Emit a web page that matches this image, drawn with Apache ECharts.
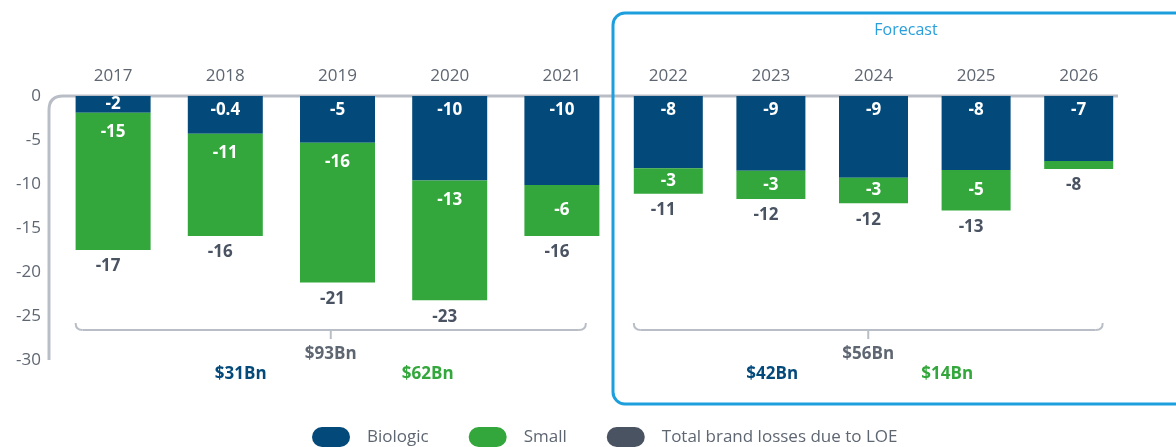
<!DOCTYPE html>
<html>
<head>
<meta charset="utf-8">
<script src="https://cdn.jsdelivr.net/npm/echarts@6/dist/echarts.min.js"></script>
<style>
  html, body { margin: 0; padding: 0; background: #fff; }
  #main { width: 1176px; height: 447px; }
</style>
</head>
<body>
<div id="main"></div>
<script>
// values (in $Bn, losses are negative)
var years = ['2017', '2018', '2019', '2020', '2021', '2022', '2023', '2024', '2025', '2026'];
var biologic = [-1.9, -4.3, -5.3, -9.6, -10.1, -8.2, -8.5, -9.3, -8.4, -7.4];
var small = [-15.6, -11.6, -15.9, -13.6, -5.8, -2.9, -3.2, -2.9, -4.6, -0.9];
var total = [-17.5, -15.9, -21.2, -23.2, -15.9, -11.1, -11.7, -12.2, -13.0, -8.3];
// printed labels (as shown on the chart)
var bioLabels = ['-2', '-0.4', '-5', '-10', '-10', '-8', '-9', '-9', '-8', '-7'];
var smallLabels = ['-15', '-11', '-16', '-13', '-6', '-3', '-3', '-3', '-5', ''];
var totalLabels = ['-17', '-16', '-21', '-23', '-16', '-11', '-12', '-12', '-13', '-8'];
var periodTotals = ['$93Bn', '$56Bn'];
var bioTotals = ['$31Bn', '$42Bn'];
var smallTotals = ['$62Bn', '$14Bn'];

var NAVY = '#034a7b', GREEN = '#33a73b', SLATE = '#4a5362', AXIS = '#b9bec6', GREY = '#5e6672';
var FONT = '"Open Sans", "DejaVu Sans", sans-serif';

var chart = echarts.init(document.getElementById('main'));

var barW = [75, 69];

function items(vals, labels, off, bigAt, dist) {
    return vals.map(function (v, i) {
        var big = Math.abs(v) >= bigAt;
        return {
            value: v,
            label: {
                formatter: labels[off + i],
                position: big ? 'insideTop' : 'inside',
                distance: dist
            }
        };
    });
}

var series = [];
[0, 1].forEach(function (p) {
    var off = p * 5;
    series.push({
        name: 'Biologic', type: 'bar', stack: 'loe' + p,
        xAxisIndex: p, yAxisIndex: p, barWidth: barW[p], barGap: '-100%',
        itemStyle: { color: NAVY },
        label: { show: true, color: '#fff', fontWeight: 'bold', fontSize: 17, fontFamily: FONT },
        data: items(biologic.slice(off, off + 5), bioLabels, off, 3, 6)
    });
    series.push({
        name: 'Small', type: 'bar', stack: 'loe' + p,
        xAxisIndex: p, yAxisIndex: p, barWidth: barW[p], barGap: '-100%',
        itemStyle: { color: GREEN },
        label: { show: true, color: '#fff', fontWeight: 'bold', fontSize: 17, fontFamily: FONT },
        data: items(small.slice(off, off + 5), smallLabels, off, 8, 11)
    });
    series.push({
        name: 'Total brand losses due to LOE', type: 'bar',
        xAxisIndex: p, yAxisIndex: p, barWidth: barW[p], barGap: '-100%',
        itemStyle: { color: 'rgba(0,0,0,0)' },
        label: {
            show: true, position: 'bottom', distance: 8, offset: [-5, 0],
            color: SLATE, fontWeight: 'bold', fontSize: 17, fontFamily: FONT,
            formatter: function (d) { return totalLabels[off + d.dataIndex]; }
        },
        data: total.slice(off, off + 5)
    });
});

var xAxisBase = function (p) {
    return {
        type: 'category', gridIndex: p, position: 'top',
        data: years.slice(p * 5, p * 5 + 5),
        axisLine: { show: false }, axisTick: { show: false },
        axisLabel: { color: GREY, fontSize: 17, fontFamily: FONT, margin: 11 }
    };
};

option = {
    animation: false,
    grid: [
        { left: 57, right: 558, top: 96, bottom: 87 },
        { left: 617, right: 46, top: 96, bottom: 87 }
    ],
    xAxis: [xAxisBase(0), xAxisBase(1)],
    yAxis: [
        {
            type: 'value', gridIndex: 0, min: -30, max: 0, interval: 5,
            axisLine: { show: false }, axisTick: { show: false }, splitLine: { show: false },
            axisLabel: { color: GREY, fontSize: 17, fontFamily: FONT, margin: 16 }
        },
        {
            type: 'value', gridIndex: 1, min: -30, max: 0, interval: 5, show: false,
            splitLine: { show: false }
        }
    ],
    legend: {
        left: 312, top: 427, padding: 0, itemWidth: 38, itemHeight: 20, itemGap: 40,
        icon: 'path://M10,0 H28 A10,10 0 0 1 28,20 H10 A10,10 0 0 1 10,0 Z',
        textStyle: { color: GREY, fontSize: 17, fontFamily: FONT, padding: [0, 0, 0, 12] },
        data: [
            { name: 'Biologic', itemStyle: { color: NAVY } },
            { name: 'Small', itemStyle: { color: GREEN } },
            { name: 'Total brand losses due to LOE', itemStyle: { color: SLATE } }
        ]
    },
    series: series
};
chart.setOption(option);

// frame, forecast box and period brackets
var y0 = chart.convertToPixel({ yAxisIndex: 0 }, 0);
var yMin = chart.convertToPixel({ yAxisIndex: 0 }, -30);
var yBr = chart.convertToPixel({ yAxisIndex: 0 }, -26.6);
var lineStyle = function (w) { return { stroke: AXIS, lineWidth: w, fill: null }; };
var els = [];
// axis frame with rounded corner
els.push({ type: 'line', silent: true, shape: { x1: 49, y1: yMin, x2: 49, y2: y0 + 14 }, style: lineStyle(3) });
els.push({ type: 'bezierCurve', silent: true, shape: { x1: 49, y1: y0 + 14, cpx1: 49, cpy1: y0, x2: 63, y2: y0 }, style: lineStyle(3) });
els.push({ type: 'line', silent: true, shape: { x1: 63, y1: y0, x2: 1118, y2: y0 }, style: lineStyle(3) });
// forecast box
els.push({
    type: 'rect', silent: true,
    shape: { x: 613, y: 13, width: 620, height: 391, r: 12 },
    style: { stroke: '#1d9fdd', lineWidth: 3, fill: null }
});
els.push({
    type: 'text', silent: true,
    style: { text: 'Forecast', x: 906, y: 30, align: 'center', verticalAlign: 'middle', fill: '#2a9fdb', font: '16px ' + FONT }
});
var txtOff = [[-90, 97], [-96, 79]];
[0, 1].forEach(function (p) {
    var xa = chart.convertToPixel({ xAxisIndex: p }, years[p * 5]) - barW[p] / 2;
    var xb = chart.convertToPixel({ xAxisIndex: p }, years[p * 5 + 4]) + 24;
    var cx = (xa + xb) / 2;
    els.push({ type: 'bezierCurve', silent: true, shape: { x1: xa, y1: yBr - 7, cpx1: xa, cpy1: yBr, x2: xa + 7, y2: yBr }, style: lineStyle(2) });
    els.push({ type: 'line', silent: true, shape: { x1: xa + 7, y1: yBr, x2: xb - 7, y2: yBr }, style: lineStyle(2) });
    els.push({ type: 'bezierCurve', silent: true, shape: { x1: xb - 7, y1: yBr, cpx1: xb, cpy1: yBr, x2: xb, y2: yBr - 7 }, style: lineStyle(2) });
    els.push({ type: 'line', silent: true, shape: { x1: cx, y1: yBr, x2: cx, y2: yBr + 9 }, style: lineStyle(2) });
    els.push({
        type: 'text', silent: true,
        style: { text: periodTotals[p], x: cx, y: 354, align: 'center', verticalAlign: 'middle', fill: GREY, font: 'bold 17px ' + FONT }
    });
    els.push({
        type: 'text', silent: true,
        style: { text: bioTotals[p], x: cx + txtOff[p][0], y: 374, align: 'center', verticalAlign: 'middle', fill: NAVY, font: 'bold 17px ' + FONT }
    });
    els.push({
        type: 'text', silent: true,
        style: { text: smallTotals[p], x: cx + txtOff[p][1], y: 374, align: 'center', verticalAlign: 'middle', fill: GREEN, font: 'bold 17px ' + FONT }
    });
});
chart.setOption({ graphic: els });
</script>
</body>
</html>
